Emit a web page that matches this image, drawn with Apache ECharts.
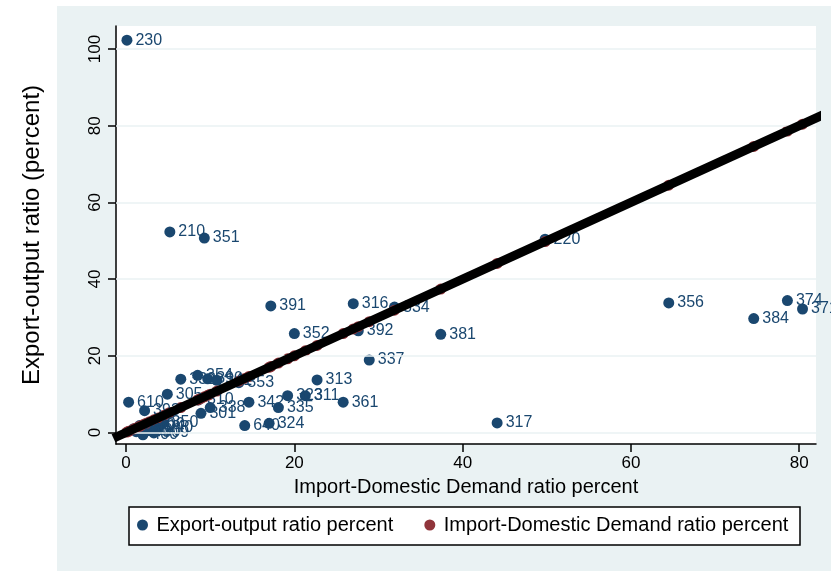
<!DOCTYPE html>
<html>
<head>
<meta charset="utf-8">
<script src="https://cdn.jsdelivr.net/npm/echarts@6/dist/echarts.min.js"></script>
<style>
  html, body { margin: 0; padding: 0; background: #fff; }
  #chart { width: 831px; height: 571px; }
</style>
</head>
<body>
<div id="chart"></div>
<script>
// sector codes, import-domestic demand ratio (x) and export-output ratio (y)
const labels = [
  "230", "210", "351", "220", "356", "384", "374", "371", "317", "381",
  "316", "334", "392", "352", "391", "337", "313", "361", "323", "311",
  "335", "324", "640", "342", "338", "301", "310", "353", "305", "610",
  "393", "332", "354", "390", "341", "350", "309", "290", "270", "250",
  "300", "240", "400", "260"
];
const importRatio = [
  0.1, 5.2, 9.3, 49.8, 64.5, 74.6, 78.6, 80.4, 44.1, 37.4,
  27.0, 31.9, 27.6, 20.0, 17.2, 28.9, 22.7, 25.8, 19.2, 21.3,
  18.1, 17.0, 14.1, 14.6, 10.0, 8.9, 8.6, 13.4, 4.9, 0.3,
  2.2, 6.5, 8.5, 9.7, 10.8, 4.4, 3.3, 2.4, 1.6, 1.2,
  2.8, 3.8, 2.0, 0.9
];
const exportRatio = [
  102.3, 52.3, 50.7, 50.4, 33.8, 29.7, 34.4, 32.2, 2.5, 25.6,
  33.6, 32.7, 26.5, 25.8, 33.0, 18.9, 13.7, 7.9, 9.6, 9.6,
  6.5, 2.4, 1.8, 7.9, 6.5, 5.0, 8.5, 13.0, 10.0, 7.9,
  5.7, 13.9, 14.9, 14.0, 13.6, 2.5, -0.1, 0.6, 1.8, 0.2,
  2.0, 1.2, -0.6, 1.0
];
const xTicks = [0, 20, 40, 60, 80];
const yTicks = [0, 20, 40, 60, 80, 100];
const fitLine = [[-1.5, -1.5], [83, 83]];

const navy = "#1a476f";
const maroon = "#90353b";
const bg = "#eaf2f3";
const font = "'Liberation Sans', Arial, sans-serif";

const chart = echarts.init(document.getElementById("chart"));

const option = {
  backgroundColor: "#fff",
  animation: false,
  graphic: [
    {
      type: "rect",
      z: -10,
      shape: { x: 57, y: 6, width: 780, height: 570 },
      style: { fill: bg }
    },
    {
      type: "rect",
      z: -5,
      shape: { x: 129, y: 507, width: 671, height: 38 },
      style: { fill: "#fff", stroke: "#000", lineWidth: 1.5 }
    }
  ],
  grid: {
    left: 116,
    right: 15,
    top: 26,
    bottom: 127,
    show: true,
    backgroundColor: "#fff",
    borderWidth: 0
  },
  legend: {
    left: 137,
    top: 515,
    padding: 0,
    itemGap: 31,
    itemWidth: 18,
    itemHeight: 11,
    icon: "circle",
    textStyle: { fontFamily: font, fontSize: 20, color: "#000" },
    data: ["Export-output ratio percent", "Import-Domestic Demand ratio percent"]
  },
  xAxis: {
    type: "value",
    min: -1.2,
    max: 82,
    name: "Import-Domestic Demand ratio percent",
    nameLocation: "middle",
    nameGap: 33,
    nameTextStyle: { fontFamily: font, fontSize: 20, color: "#000" },
    axisLine: { show: true, onZero: false, lineStyle: { color: "#000", width: 1.5 } },
    axisTick: { show: true, customValues: xTicks, length: 8, lineStyle: { color: "#000", width: 1.5 } },
    axisLabel: { customValues: xTicks, fontFamily: font, fontSize: 17, color: "#000", margin: 11 },
    splitLine: { show: false }
  },
  yAxis: {
    type: "value",
    min: -3,
    max: 106,
    name: "Export-output ratio (percent)",
    nameLocation: "middle",
    nameGap: 72,
    nameTextStyle: { fontFamily: font, fontSize: 24, color: "#000" },
    axisLine: { show: true, onZero: false, lineStyle: { color: "#000", width: 1.5 } },
    axisTick: { show: true, customValues: yTicks, length: 8, lineStyle: { color: "#000", width: 1.5 } },
    axisLabel: { customValues: yTicks, rotate: 90, fontFamily: font, fontSize: 17, color: "#000", margin: 12 },
    splitLine: { show: false }
  },
  series: [
    {
      name: "grid",
      type: "line",
      data: [],
      z: 1,
      silent: true,
      markLine: {
        silent: true,
        symbol: "none",
        label: { show: false },
        lineStyle: { color: bg, width: 1.5, type: "solid" },
        data: yTicks.map((v) => ({ yAxis: v }))
      }
    },
    {
      name: "Export-output ratio percent",
      type: "scatter",
      z: 3,
      symbolSize: 11,
      itemStyle: { color: navy, opacity: 1 },
      label: {
        show: true,
        position: "right",
        distance: 3,
        fontFamily: font,
        fontSize: 16,
        color: navy,
        formatter: (p) => p.value[2]
      },
      data: labels.map((l, i) => [importRatio[i], exportRatio[i], l])
    },
    {
      name: "Import-Domestic Demand ratio percent",
      type: "scatter",
      z: 3,
      symbolSize: 11,
      itemStyle: { color: maroon, opacity: 1 },
      data: importRatio.map((v) => [v, v])
    },
    {
      name: "fit",
      type: "line",
      z: 5,
      clip: false,
      silent: true,
      symbol: "none",
      lineStyle: { color: "#000", width: 9 },
      data: fitLine
    }
  ]
};

chart.setOption(option);
</script>
</body>
</html>
